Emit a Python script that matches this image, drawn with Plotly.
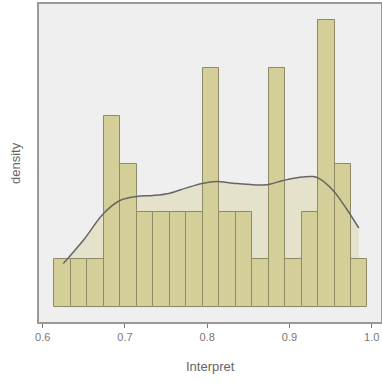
import plotly.graph_objects as go

# Histogram bins (Interpret)
bin_start = 0.6141
bin_width = 0.02004
counts = [1, 1, 1, 4, 3, 2, 2, 2, 2, 5, 2, 2, 1, 5, 1, 2, 6, 3, 1]

# Density curve (in count units)
kde_x = [0.6251, 0.6494, 0.6737, 0.6939, 0.7142, 0.7344, 0.7547, 0.7749, 0.7952, 0.8114,
         0.8316, 0.8559, 0.8721, 0.8924, 0.9126, 0.9288, 0.9369, 0.9531, 0.9693, 0.9843]
kde_y = [0.915, 1.40, 1.954, 2.23, 2.314, 2.335, 2.383, 2.494, 2.591, 2.626,
         2.591, 2.557, 2.557, 2.647, 2.716, 2.730, 2.681, 2.439, 2.058, 1.656]

tick_vals = [0.6, 0.7, 0.8, 0.9, 1.0]
tick_text = ["0.6", "0.7", "0.8", "0.9", "1.0"]

x_range = [0.5955, 1.0113]
y_range = [-0.305, 6.33]

centers = [bin_start + (i + 0.5) * bin_width for i in range(len(counts))]

fig = go.Figure()
# fill (bottom layer, primary axes)
fig.add_trace(go.Scatter(x=kde_x, y=kde_y, mode="lines", line=dict(width=0, shape="spline"),
                         fill="tozeroy", fillcolor="#e5e2cb", hoverinfo="skip", showlegend=False,
                         xaxis="x", yaxis="y"))
# bars and curve on overlay axes (drawn above fill)
fig.add_trace(go.Bar(x=centers, y=counts, width=bin_width,
                     marker=dict(color="#d4cf98", line=dict(color="#8d8a66", width=1)),
                     showlegend=False, xaxis="x2", yaxis="y2"))
fig.add_trace(go.Scatter(x=kde_x, y=kde_y, mode="lines",
                         line=dict(color="#666666", width=1.5, shape="spline"), showlegend=False,
                         xaxis="x2", yaxis="y2"))

fig.update_layout(
    width=382, height=383,
    margin=dict(l=39, r=1, t=4, b=61),
    paper_bgcolor="white", plot_bgcolor="#efefef",
    font=dict(family="Liberation Sans, Arial, sans-serif", color="#777777", size=11),
    bargap=0,
    xaxis=dict(range=x_range, tickvals=tick_vals, ticktext=tick_text, automargin=False,
               showgrid=False, zeroline=False, showline=True, mirror=True,
               linecolor="#999999", linewidth=2, ticks="outside", ticklen=4,
               tickcolor="#777777", tickfont=dict(size=11, color="#777777")),
    yaxis=dict(range=y_range, showticklabels=False, showgrid=False, zeroline=False, automargin=False,
               showline=True, mirror=True, linecolor="#999999", linewidth=2, ticks=""),
    xaxis2=dict(range=x_range, overlaying="x", visible=False, automargin=False),
    yaxis2=dict(range=y_range, overlaying="y", visible=False, automargin=False),
    annotations=[
        dict(text="Interpret", xref="paper", yref="paper", x=0.5, y=-0.1415, yanchor="middle",
             showarrow=False, font=dict(size=13, color="#666666")),
        dict(text="density", xref="paper", yref="paper", x=-0.070, y=0.5, xanchor="center",
             yanchor="middle", textangle=-90, showarrow=False, font=dict(size=13, color="#666666")),
    ],
)

fig.write_html("out.html", config={"displayModeBar": False},
               post_script="document.body.style.margin='0';")
